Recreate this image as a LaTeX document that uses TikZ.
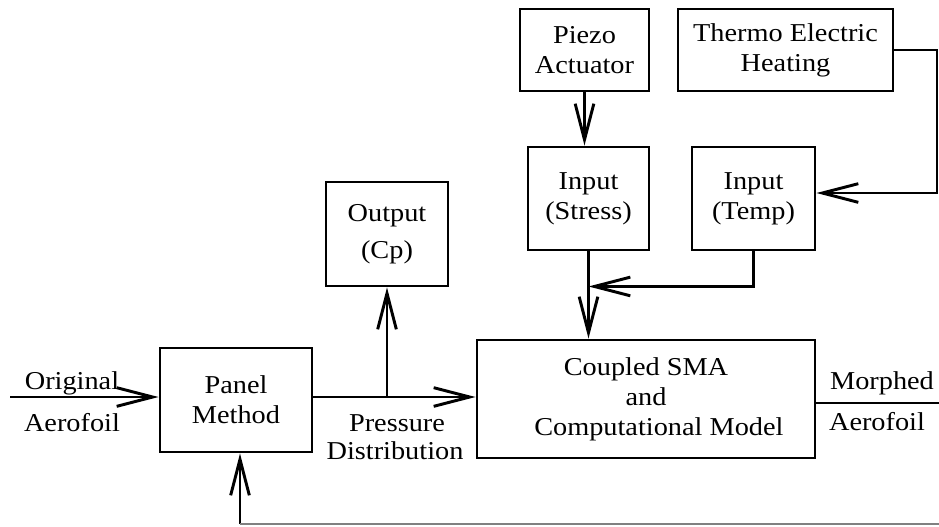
\documentclass[tikz,border=0pt]{standalone}
\usepackage{fontspec}
\setmainfont{Liberation Serif}[FakeStretch=1.1]
\usetikzlibrary{arrows.meta,calc}

\begin{document}
\begin{tikzpicture}[x=0.75pt,y=-0.75pt,
  line width=2.2pt,
  every node/.style={font=\fontsize{19.3}{22.5}\selectfont},
  box/.style={draw,rectangle,align=center,inner sep=0pt},
  lbl/.style={anchor=base,inner sep=0pt},
  arr/.style={-{Straight Barb[length=27pt,width=14pt]}}]

\useasboundingbox (0,0) rectangle (939,526);

% blocks
\node[box,minimum width=96.75pt,minimum height=61.5pt] (piezo) at (584.5,50) {Piezo\\Actuator};
\node[box,minimum width=161.25pt,minimum height=61.5pt] (thermo) at (785.5,50) {Thermo Electric\\Heating};
\node[box,minimum width=90.75pt,minimum height=77.25pt] (stress) at (588.5,198.5) {Input\\(Stress)};
\node[box,minimum width=92.25pt,minimum height=77.25pt] (temp) at (753.5,198.5) {Input\\(Temp)};
\node[box,minimum width=91.5pt,minimum height=78pt] (output) at (387,234) {Output\\[5pt](Cp)};
\node[box,minimum width=114pt,minimum height=78pt] (panel) at (236,400) {Panel\\Method};
\node[box,minimum width=253.5pt,minimum height=88.5pt] (coupled) at (646,399)
  {Coupled SMA\\and\\\hspace*{1em}Computational Model};

% free ends
\coordinate (src) at (10,397);
\coordinate (snk) at (939,403);
\coordinate (tturn) at (937,193);
\coordinate (fb) at (240,524);
\path (stress.south) ++(0,35) coordinate (join);

% connectors
\draw[arr] (src) -- (src -| panel.west);
\draw[arr] (src -| panel.east) -- (src -| coupled.west);
\draw[arr] (src -| output.south) -- (output.south);
\draw[arr] (piezo.south) -- (piezo.south |- stress.north);
\draw[arr] (thermo.east) -| (tturn) -- (tturn -| temp.east);
\draw[arr] (stress.south) -- (stress.south |- coupled.north);
\draw[arr] (temp.south) |- (join);
\draw (snk -| coupled.east) -- (snk);
\draw[arr] (fb) -- (fb |- panel.south);
\draw[gray,line width=1.4pt] (fb) -- (939,524);

% labels
\node[lbl] (orig1) at (72,389) {Original};
\node[lbl] (orig2) at (72,431) {Aerofoil};
\node[lbl] (pd1) at (397,431) {Pressure};
\node[lbl] (pd2) at (395,459) {Distribution};
\node[lbl] (mo1) at (882,389) {Morphed};
\node[lbl] (mo2) at (877,430) {Aerofoil};
\end{tikzpicture}
\end{document}
